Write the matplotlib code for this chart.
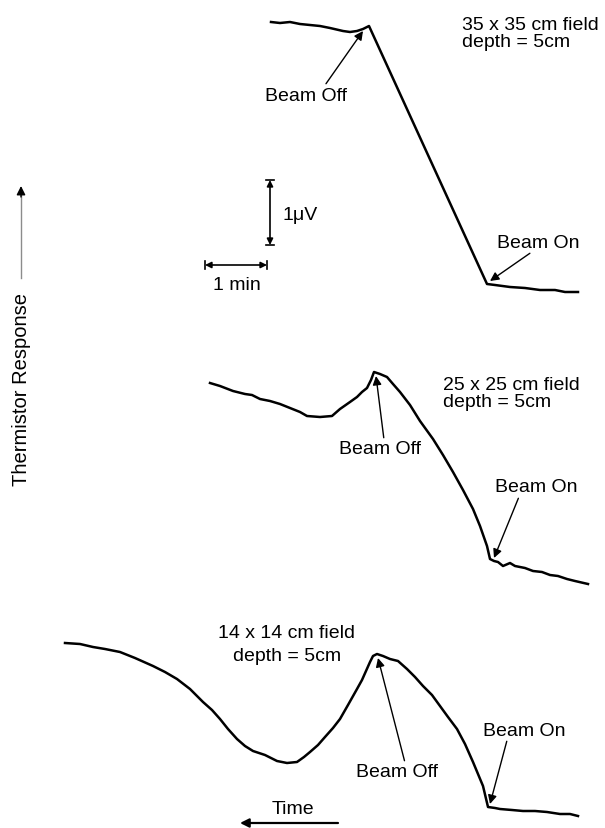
import matplotlib.pyplot as plt

plt.rcParams['font.family'] = ['Liberation Sans', 'DejaVu Sans']

# traces (x: time position, y: response position, image pixels)
top_x = [271, 280, 290, 300, 310, 320, 330, 343, 350, 357, 363, 369, 487, 495, 510,
         525, 540, 555, 565, 578]
top_y = [23, 24, 23, 25, 26, 27, 29, 32, 33, 32, 30, 27, 285, 286, 288,
         289, 291, 291, 293, 293]

mid_x = [210, 220, 233, 245, 252, 260, 270, 280, 290, 300, 307, 320, 332, 340, 350,
         357, 362, 367, 371, 374, 380, 387, 393, 400, 410, 420, 433, 443, 453, 463,
         473, 480, 487, 490, 494, 498, 503, 510, 515, 525, 533, 542, 550, 558, 567,
         575, 588]
mid_y = [384, 387, 392, 395, 396, 400, 402, 405, 409, 413, 417, 418, 417, 410, 403,
         398, 393, 389, 381, 373, 375, 378, 385, 393, 406, 422, 440, 456, 473, 491,
         510, 527, 547, 560, 562, 563, 567, 564, 567, 569, 572, 573, 576, 577, 580,
         582, 585]

bot_x = [65, 80, 93, 105, 120, 135, 153, 165, 177, 190, 203, 212, 220, 228, 237,
         245, 253, 265, 277, 287, 297, 304, 310, 318, 325, 333, 340, 348, 357, 362,
         366, 370, 373, 377, 383, 390, 398, 407, 415, 423, 432, 440, 448, 457, 465,
         473, 478, 483, 488, 495, 500, 512, 523, 535, 547, 560, 570, 578]
bot_y = [644, 645, 648, 650, 653, 659, 667, 673, 680, 690, 703, 711, 720, 730, 740,
         747, 752, 756, 762, 764, 763, 758, 753, 746, 738, 729, 720, 706, 690, 681,
         672, 663, 657, 655, 657, 660, 662, 670, 678, 687, 696, 707, 718, 730, 745,
         763, 775, 787, 808, 809, 810, 811, 812, 812, 813, 815, 815, 817]

field_labels = ['35 x 35 cm field\ndepth = 5cm',
                '25 x 25 cm field\ndepth = 5cm',
                '14 x 14 cm field\ndepth = 5cm']

fig = plt.figure(figsize=(6.05, 8.29), dpi=100)
ax = fig.add_axes([0, 0, 1, 1])
ax.set_xlim(0, 605)
ax.set_ylim(829, 0)
ax.axis('off')

for xs, ys in [(top_x, top_y), (mid_x, mid_y), (bot_x, bot_y)]:
    ax.plot(xs, ys, color='black', lw=1.8, solid_joinstyle='round')

fs = 14
arrow = dict(arrowstyle='-|>', color='black', lw=1.0, mutation_scale=13,
             shrinkA=0, shrinkB=0)

# top trace labels
ax.text(462, 34, field_labels[0], fontsize=fs, va='center', ha='left', linespacing=1.0)
ax.annotate('Beam Off', xy=(363, 32), xytext=(306, 96), fontsize=fs,
            ha='center', va='center', arrowprops=dict(arrow, relpos=(0.72, 1.0)))
ax.annotate('Beam On', xy=(490, 282), xytext=(538, 243), fontsize=fs,
            ha='center', va='center', arrowprops=dict(arrow, relpos=(0.45, 0.0)))

# middle trace labels
ax.text(443, 394, field_labels[1], fontsize=fs, va='center', ha='left', linespacing=1.0)
ax.annotate('Beam Off', xy=(376, 377), xytext=(380, 450), fontsize=fs,
            ha='center', va='center', arrowprops=dict(arrow, relpos=(0.55, 1.0)))
ax.annotate('Beam On', xy=(494, 559), xytext=(536, 488), fontsize=fs,
            ha='center', va='center', arrowprops=dict(arrow, relpos=(0.3, 0.0)))

# bottom trace labels
ax.text(287, 645, field_labels[2], fontsize=fs, va='center', ha='center', linespacing=1.45)
ax.annotate('Beam Off', xy=(378, 659), xytext=(397, 773), fontsize=fs,
            ha='center', va='center', arrowprops=dict(arrow, relpos=(0.6, 1.0)))
ax.annotate('Beam On', xy=(490, 805), xytext=(524, 731), fontsize=fs,
            ha='center', va='center', arrowprops=dict(arrow, relpos=(0.3, 0.0)))

# scale bars
bar = dict(arrowstyle='<|-|>', color='black', lw=1.2, mutation_scale=9,
           shrinkA=0, shrinkB=0)
ax.annotate('', xy=(270, 181), xytext=(270, 246), arrowprops=bar)
ax.plot([266, 274], [181, 181], color='black', lw=1.2)
ax.plot([266, 274], [246, 246], color='black', lw=1.2)
ax.text(282, 215, '1μV', fontsize=fs, va='center', ha='left')

ax.annotate('', xy=(205, 266), xytext=(267, 266), arrowprops=bar)
ax.plot([205, 205], [262, 270], color='black', lw=1.2)
ax.plot([267, 267], [262, 270], color='black', lw=1.2)
ax.text(237, 285, '1 min', fontsize=fs, va='center', ha='center')

# axis captions
ax.text(22, 390, 'Thermistor Response', fontsize=14.5, rotation=90,
        va='center', ha='center')
ax.plot([21, 21], [279, 196], color='0.55', lw=1.0)
ax.annotate('', xy=(21, 187), xytext=(21, 198),
            arrowprops=dict(arrowstyle='-|>', color='black', lw=1.0,
                            mutation_scale=13, shrinkA=0, shrinkB=0))
ax.text(293, 810, 'Time', fontsize=fs, va='center', ha='center')
ax.annotate('', xy=(240, 824), xytext=(338, 824),
            arrowprops=dict(arrowstyle='-|>', color='black', lw=1.6,
                            mutation_scale=13, shrinkA=0, shrinkB=0))

fig.savefig('out.png', dpi=100)
